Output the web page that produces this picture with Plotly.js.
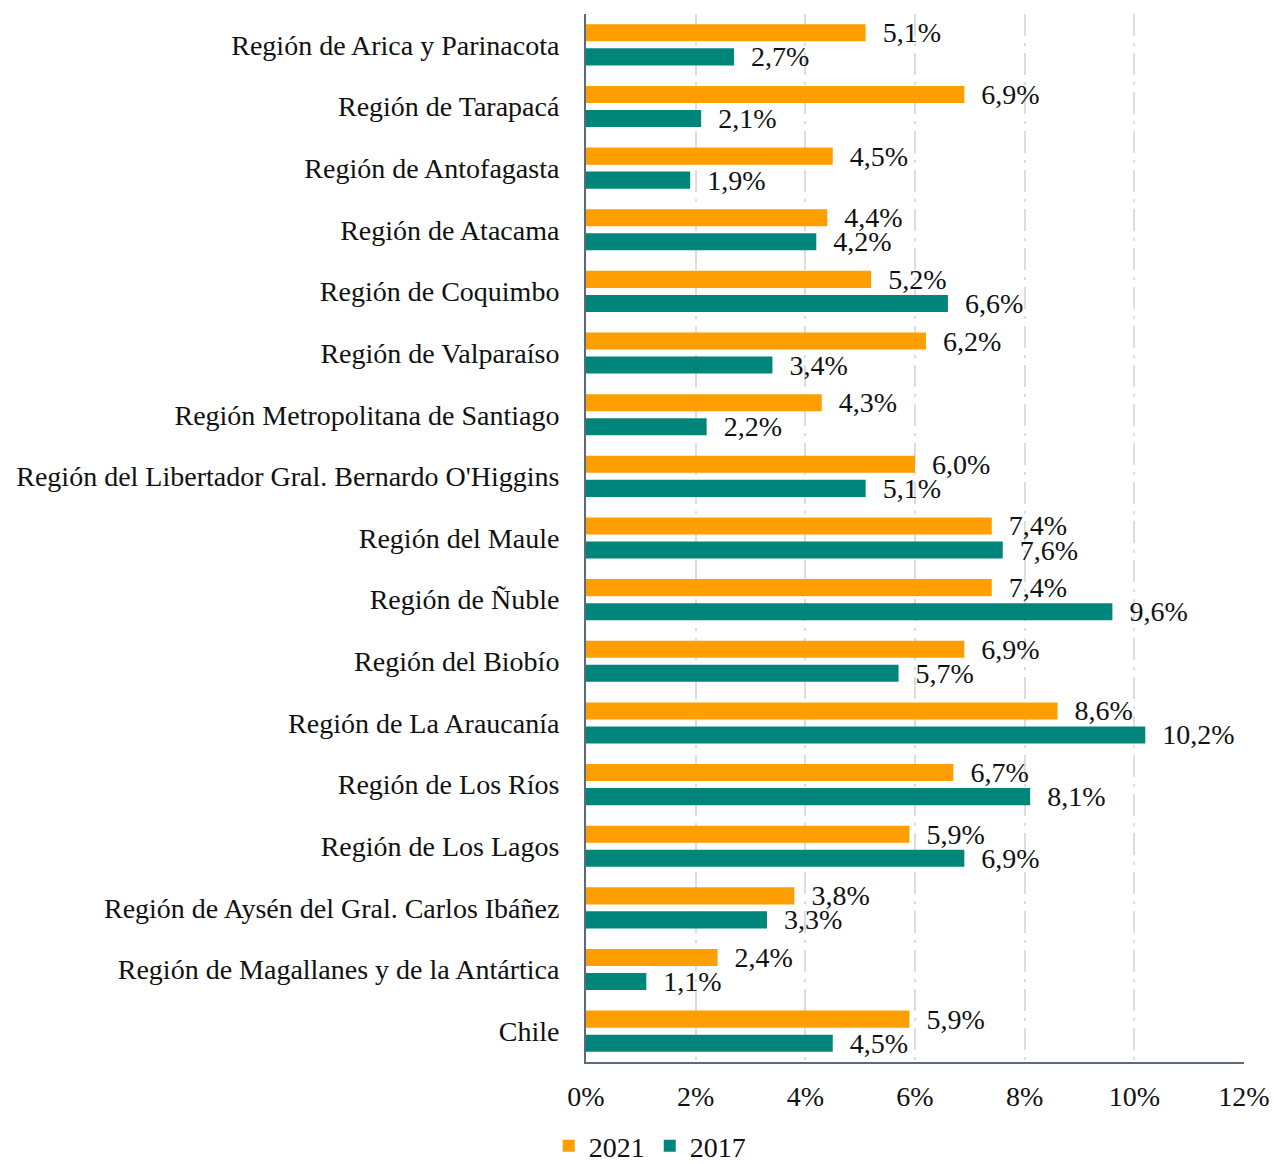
<!DOCTYPE html>
<html>
<head>
<meta charset="utf-8">
<script src="https://cdn.plot.ly/plotly-3.0.1.min.js"></script>
<style>html,body{margin:0;padding:0;background:#fff;}</style>
</head>
<body>
<div id="chart" style="width:1274px;height:1164px;"></div>
<script>
const regions = [
  "Región de Arica y Parinacota",
  "Región de Tarapacá",
  "Región de Antofagasta",
  "Región de Atacama",
  "Región de Coquimbo",
  "Región de Valparaíso",
  "Región Metropolitana de Santiago",
  "Región del Libertador Gral. Bernardo O'Higgins",
  "Región del Maule",
  "Región de Ñuble",
  "Región del Biobío",
  "Región de La Araucanía",
  "Región de Los Ríos",
  "Región de Los Lagos",
  "Región de Aysén del Gral. Carlos Ibáñez",
  "Región de Magallanes y de la Antártica",
  "Chile"
];
const values2021 = [5.1, 6.9, 4.5, 4.4, 5.2, 6.2, 4.3, 6.0, 7.4, 7.4, 6.9, 8.6, 6.7, 5.9, 3.8, 2.4, 5.9];
const values2017 = [2.7, 2.1, 1.9, 4.2, 6.6, 3.4, 2.2, 5.1, 7.6, 9.6, 5.7, 10.2, 8.1, 6.9, 3.3, 1.1, 4.5];
const xTicks = [0, 2, 4, 6, 8, 10, 12];

const FONT = "'Liberation Serif', 'DejaVu Serif', serif";
const FS = 28;
const pad = "\u00a0\u00a0";
function lbl(v){ return pad + v.toFixed(1).replace('.', ',') + '%'; }

const traces = [
  {
    type: 'bar', orientation: 'h', name: '2021',
    y: regions, x: values2021,
    marker: {color: '#FF9E00'},
    text: values2021.map(lbl), textposition: 'outside', constraintext: 'none',
    textfont: {family: FONT, size: FS, color: '#111'}, cliponaxis: false,
    hoverinfo: 'x+y'
  },
  {
    type: 'bar', orientation: 'h', name: '2017',
    y: regions, x: values2017,
    marker: {color: '#00857B'},
    text: values2017.map(lbl), textposition: 'outside', constraintext: 'none',
    textfont: {family: FONT, size: FS, color: '#111'}, cliponaxis: false,
    hoverinfo: 'x+y'
  }
];

const layout = {
  width: 1274, height: 1164,
  margin: {l: 586, r: 30, t: 14, b: 102, autoexpand: false},
  paper_bgcolor: '#fff', plot_bgcolor: '#fff',
  font: {family: FONT, size: FS, color: '#111'},
  barmode: 'group', bargap: 0.22, bargroupgap: 0.29,
  showlegend: true,
  legend: {orientation: 'h', xref: 'container', yref: 'container', x: 0.51, xanchor: 'center', y: 0.037, yanchor: 'top',
           font: {family: FONT, size: FS, color: '#111'}, traceorder: 'normal', itemwidth: 30},
  xaxis: {
    range: [0, 12], tickvals: xTicks, ticktext: xTicks.map(v => v + '%'),
    showgrid: true, gridcolor: '#DDDDDD', gridwidth: 2, griddash: '22px,7px,3px,7px',
    zeroline: false, showline: true, linecolor: '#5A6B80', linewidth: 2,
    ticks: '', ticklabelstandoff: 8, tickfont: {family: FONT, size: FS, color: '#111'}
  },
  yaxis: {
    autorange: 'reversed', type: 'category',
    showgrid: false, zeroline: false, showline: true, linecolor: '#5A6B80', linewidth: 2,
    ticks: '', ticklabelstandoff: 19, tickfont: {family: FONT, size: FS, color: '#111'}
  }
};

Plotly.newPlot('chart', traces, layout, {displayModeBar: false, responsive: false});
</script>
</body>
</html>
